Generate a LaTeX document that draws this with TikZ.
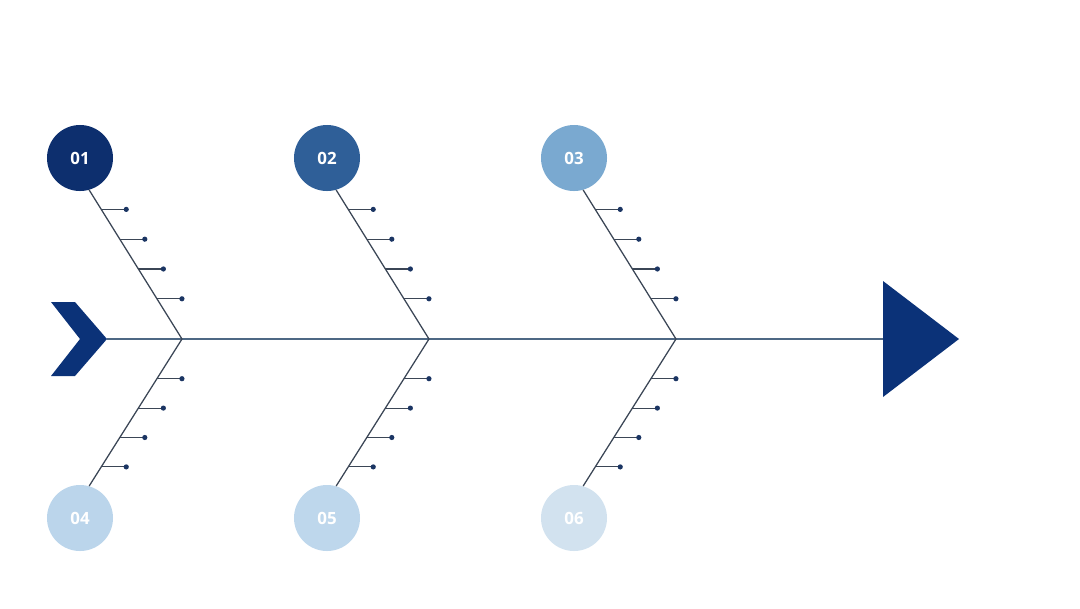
\documentclass[tikz,border=0pt]{standalone}
\usepackage{fontspec}
\setmainfont{Open Sans}
\usepackage{xcolor}
\usetikzlibrary{calc}

\definecolor{navy}{HTML}{0B3278}
\definecolor{stepA}{HTML}{0D2F6E}
\definecolor{stepB}{HTML}{2F5F98}
\definecolor{stepC}{HTML}{7AA9D0}
\definecolor{stepD}{HTML}{BBD5EB}
\definecolor{stepE}{HTML}{BED7EC}
\definecolor{stepF}{HTML}{D2E2EF}
\definecolor{bone}{HTML}{3B4656}
\definecolor{spine}{HTML}{4E6884}
\definecolor{tip}{HTML}{1B3563}

\begin{document}
\begin{tikzpicture}[
  x=0.025cm, y=-0.025cm,
  num/.style={circle, minimum size=1.65cm, inner sep=0pt, text=white,
              font=\bfseries\fontsize{12}{12}\selectfont},
  bonel/.style={draw=bone, line width=0.9pt},
  tick/.style={draw=bone, line width=0.8pt}
]
  \useasboundingbox (0,0) rectangle (1080,608);

  % numbered circles
  \node[num, fill=stepA] (c1) at (80,158)  {01};
  \node[num, fill=stepB] (c2) at (327,158) {02};
  \node[num, fill=stepC] (c3) at (574,158) {03};
  \node[num, fill=stepD] (c4) at (80,518)  {04};
  \node[num, fill=stepE] (c5) at (327,518) {05};
  \node[num, fill=stepF] (c6) at (574,518) {06};

  % spine
  \coordinate (start) at (107,339);
  \coordinate (head)  at (883,339);
  \coordinate (j1) at (182,339);
  \coordinate (j2) at (429,339);
  \coordinate (j3) at (676,339);

  \fill[navy] (51,302) -- (75,302) -- (107,339) -- (75,376) -- (51,376)
              -- (80,339) -- cycle;
  \fill[navy] (883,281) -- (959,339) -- (883,397) -- cycle;
  \draw[draw=spine, line width=1pt] (start) -- (head);

  % bones with ticks
  \foreach \i/\j in {1/1, 2/2, 3/3} {
    \draw[bonel] (c\i.-74) -- (j\j);
    \foreach \f in {0.13, 0.33, 0.53, 0.73} {
      \coordinate (t) at ($(c\i.-74)!\f!(j\j)$);
      \draw[tick] (t) -- ++(25,0);
      \fill[tip] ($(t)+(25,0)$) circle (2.6);
    }
  }
  \foreach \i/\j in {4/1, 5/2, 6/3} {
    \draw[bonel] (c\i.74) -- (j\j);
    \foreach \f in {0.13, 0.33, 0.53, 0.73} {
      \coordinate (t) at ($(c\i.74)!\f!(j\j)$);
      \draw[tick] (t) -- ++(25,0);
      \fill[tip] ($(t)+(25,0)$) circle (2.6);
    }
  }
\end{tikzpicture}
\end{document}
